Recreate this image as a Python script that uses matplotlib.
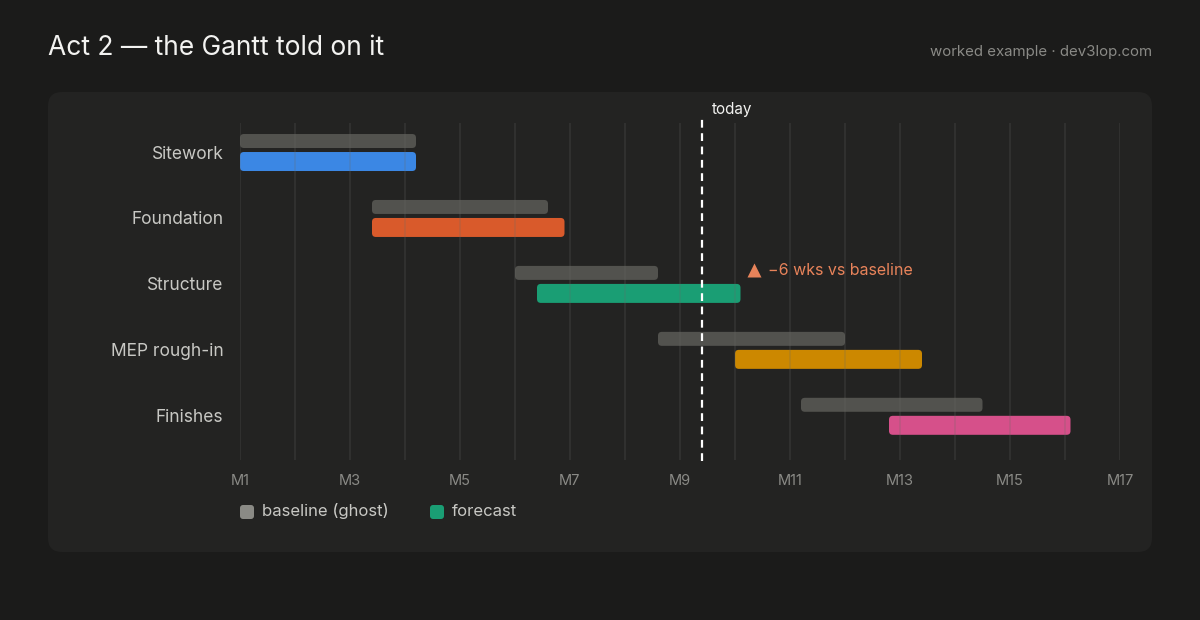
import matplotlib
matplotlib.use("Agg")
import matplotlib.pyplot as plt
from matplotlib.patches import FancyBboxPatch

plt.rcParams['font.family'] = ['Inter', 'DejaVu Sans']

# data
tasks = ["Sitework", "Foundation", "Structure", "MEP rough-in", "Finishes"]
base_start = [1.0, 3.4, 6.0, 8.6, 11.2]
base_end = [4.2, 6.6, 8.6, 12.0, 14.5]
fc_start = [1.0, 3.4, 6.4, 10.0, 12.8]
fc_end = [4.2, 6.9, 10.1, 13.4, 16.1]
fc_colors = ["#3b87e4", "#d95a2b", "#1a9e74", "#cc8800", "#d6508a"]
today = 9.4
month_ticks = list(range(1, 18, 2))
month_labels = [f"M{m}" for m in month_ticks]
note_text = "−6 wks vs baseline"
note_row = 2

BG = "#1b1b1a"
PANEL = "#232322"
GHOST = "#52524e"

fig = plt.figure(figsize=(12, 6.2), dpi=100, facecolor=BG)

# panel
panel = FancyBboxPatch((0.48, 0.68), 11.04, 4.6,
                       boxstyle="round,pad=0,rounding_size=0.14",
                       transform=fig.dpi_scale_trans, facecolor=PANEL,
                       edgecolor="none", zorder=-5)
fig.patches.append(panel)

fig.text(48 / 1200, 1 - 48 / 620, "Act 2 — the Gantt told on it", color="#f2f2f0",
         fontsize=19, va="center", ha="left")
fig.text(1152 / 1200, 1 - 52 / 620, "worked example · dev3lop.com", color="#8a8a86",
         fontsize=10.8, va="center", ha="right")

ax = fig.add_axes([240 / 1200, (620 - 460) / 620, 880 / 1200, 337 / 620])
ax.set_zorder(2)
ax.set_facecolor("none")
ax.set_xlim(1, 17)
ax.set_ylim(4.67, -0.44)
for s in ax.spines.values():
    s.set_visible(False)

aspect = 55 / 66  # px per month / px per row


def rbar(x0, x1, yc, h, color):
    p = FancyBboxPatch((x0, yc - h / 2), x1 - x0, h,
                       boxstyle="round,pad=0,rounding_size=0.07",
                       mutation_aspect=aspect, facecolor=color,
                       edgecolor="none", zorder=2)
    ax.add_patch(p)


for i in range(len(tasks)):
    rbar(base_start[i], base_end[i], i - 0.167, 0.212, GHOST)
    rbar(fc_start[i], fc_end[i], i + 0.144, 0.288, fc_colors[i])

# month gridlines on top of bars
for m in range(1, 18):
    ax.axvline(m, color="#6a6a66", alpha=0.2, lw=1.4, zorder=3)

# today line
ax.plot([today, today], [4.69, -0.52], color="white", lw=1.6,
        dashes=(3.5, 2.5), zorder=4, clip_on=False)
ax.text(today + 10 / 55, -0.65, "today", color="#f2f2f0", fontsize=11,
        ha="left", va="center")

# annotation
ny = note_row - 0.21
ax.plot([fc_end[note_row] + 0.25], [ny], marker="^", ms=10, color="#e8835a",
        mec="none", zorder=5, clip_on=False)
ax.text(fc_end[note_row] + 0.5, ny, note_text, color="#e8835a", fontsize=11.5,
        ha="left", va="center")

ax.set_yticks(range(len(tasks)))
ax.set_yticklabels(tasks, color="#c8c8c4", fontsize=12.5)
ax.set_xticks(month_ticks)
ax.set_xticklabels(month_labels, color="#8a8a86", fontsize=10.5)
ax.tick_params(axis="y", length=0, pad=12)
ax.tick_params(axis="x", length=0, pad=10)

# legend
def swatch(px, color):
    p = FancyBboxPatch((px / 100, (620 - 519) / 100), 0.14, 0.14,
                       boxstyle="round,pad=0,rounding_size=0.03",
                       transform=fig.dpi_scale_trans, facecolor=color,
                       edgecolor="none")
    fig.patches.append(p)


swatch(240, "#8a8a85")
fig.text(262 / 1200, 1 - 511 / 620, "baseline (ghost)", color="#c8c8c4",
         fontsize=12, va="center", ha="left")
swatch(430, "#1a9e74")
fig.text(452 / 1200, 1 - 511 / 620, "forecast", color="#c8c8c4",
         fontsize=12, va="center", ha="left")

fig.savefig("out.png", dpi=100, facecolor=BG)
